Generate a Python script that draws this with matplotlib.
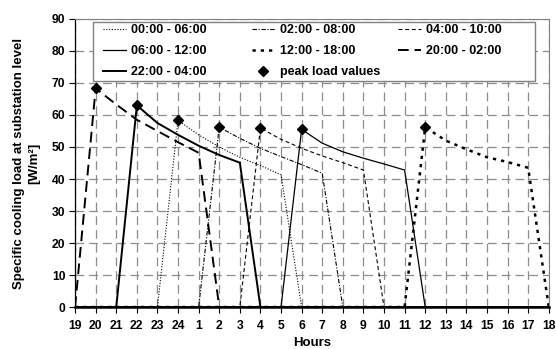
import numpy as np
import matplotlib
matplotlib.use("Agg")
import matplotlib.pyplot as plt
from matplotlib.patches import Rectangle
from matplotlib.legend import Legend

plt.rcParams['font.family'] = ['Liberation Sans', 'DejaVu Sans']
plt.rcParams['font.weight'] = 'bold'

hours = ["19", "20", "21", "22", "23", "24", "1", "2", "3", "4", "5", "6",
         "7", "8", "9", "10", "11", "12", "13", "14", "15", "16", "17", "18"]

s_00_06 = [0, 0, 0, 0, 0, 58.3, 53.8, 50.0, 46.8, 44.2, 41.3, 0,
           0, 0, 0, 0, 0, 0, 0, 0, 0, 0, 0, 0]
s_02_08 = [0, 0, 0, 0, 0, 0, 0, 56.2, 52.7, 49.6, 47.0, 44.5,
           41.8, 0, 0, 0, 0, 0, 0, 0, 0, 0, 0, 0]
s_04_10 = [0, 0, 0, 0, 0, 0, 0, 0, 0, 55.9, 52.4, 49.6,
           47.2, 45.1, 42.8, 0, 0, 0, 0, 0, 0, 0, 0, 0]
s_06_12 = [0, 0, 0, 0, 0, 0, 0, 0, 0, 0, 0, 55.5,
           51.2, 48.5, 46.5, 44.7, 42.8, 0, 0, 0, 0, 0, 0, 0]
s_12_18 = [0, 0, 0, 0, 0, 0, 0, 0, 0, 0, 0, 0,
           0, 0, 0, 0, 0, 56.2, 52.0, 49.3, 46.8, 45.3, 43.5, 0]
s_20_02 = [0, 68.3, 63.3, 58.5, 55.0, 51.5, 48.2, 0, 0, 0, 0, 0,
           0, 0, 0, 0, 0, 0, 0, 0, 0, 0, 0, 0]
s_22_04 = [0, 0, 0, 63.0, 57.5, 53.8, 50.4, 47.5, 45.1, 0, 0, 0,
           0, 0, 0, 0, 0, 0, 0, 0, 0, 0, 0, 0]

x = np.arange(len(hours))

fig = plt.figure(figsize=(5.56, 3.49), dpi=100)
ax = fig.add_axes([0.135, 0.1203, 0.852, 0.8253])

styles = [
    ("00:00 - 06:00", s_00_06, dict(color='black', lw=0.8, linestyle=(0, (1, 1.5)))),
    ("02:00 - 08:00", s_02_08, dict(color='black', lw=0.8, linestyle=(0, (4, 1.5, 1, 1.5)))),
    ("04:00 - 10:00", s_04_10, dict(color='black', lw=0.8, linestyle=(0, (3.5, 2.5)))),
    ("06:00 - 12:00", s_06_12, dict(color='black', lw=0.9, linestyle='-')),
    ("12:00 - 18:00", s_12_18, dict(color='black', lw=1.8, linestyle=(0, (1.3, 2.0)))),
    ("20:00 - 02:00", s_20_02, dict(color='black', lw=1.4, linestyle=(0, (5.5, 3)))),
    ("22:00 - 04:00", s_22_04, dict(color='black', lw=1.4, linestyle='-')),
]

handles = {}
for name, ys, st in styles:
    ln, = ax.plot(x, ys, **st, zorder=3)
    handles[name] = ln

peak_x = []
peak_y = []
for name, ys, st in styles:
    i = int(np.argmax(ys))
    peak_x.append(x[i])
    peak_y.append(ys[i])
pk, = ax.plot(peak_x, peak_y, linestyle='none', marker='D', color='black',
              markersize=5, zorder=4)
handles["peak load values"] = pk

ax.set_xlim(0, len(hours) - 1)
ax.set_ylim(0, 90)
ax.set_xticks(x)
ax.set_xticklabels(hours)
ax.set_yticks(np.arange(0, 91, 10))
ax.tick_params(axis='both', labelsize=8.7, direction='out', length=4,
               width=0.8, colors='black', pad=3)
ax.tick_params(axis='x', pad=5)
for lab in ax.get_xticklabels() + ax.get_yticklabels():
    lab.set_fontweight('bold')

ax.grid(True, color='#8c8c8c', linestyle=(0, (7, 4)), linewidth=0.9, zorder=0)
ax.set_axisbelow(True)

for side in ['top', 'right']:
    ax.spines[side].set_color('#808080')
    ax.spines[side].set_linewidth(0.8)
ax.spines['left'].set_color('black')
ax.spines['left'].set_linewidth(0.9)
ax.spines['bottom'].set_color('black')
ax.spines['bottom'].set_linewidth(1.8)

ax.set_ylabel("Specific cooling load at substation level\n[W/m²]",
              fontsize=9.5, fontweight='bold', labelpad=8, linespacing=1.35)
ax.set_xlabel("Hours", fontsize=9.5, fontweight='bold', labelpad=4)

# legend frame (fixed-width columns like the original)
frame = Rectangle((0.038, 0.785), 0.932, 0.205, transform=ax.transAxes,
                  facecolor='white', edgecolor='#808080', linewidth=1.0,
                  zorder=5)
ax.add_patch(frame)

columns = [
    (0.059, ["00:00 - 06:00", "06:00 - 12:00", "22:00 - 04:00"]),
    (0.373, ["02:00 - 08:00", "12:00 - 18:00", "peak load values"]),
    (0.681, ["04:00 - 10:00", "20:00 - 02:00"]),
]
for cx, names in columns:
    lg = Legend(ax, [handles[k] for k in names], names, loc='upper left',
                bbox_to_anchor=(cx, 0.982), bbox_transform=ax.transAxes,
                frameon=False, prop={'size': 9, 'weight': 'bold'},
                handlelength=1.85, borderaxespad=0, borderpad=0,
                labelspacing=0.72, handletextpad=0.4)
    lg.set_zorder(6)
    ax.add_artist(lg)

fig.savefig("out.png", dpi=100)
